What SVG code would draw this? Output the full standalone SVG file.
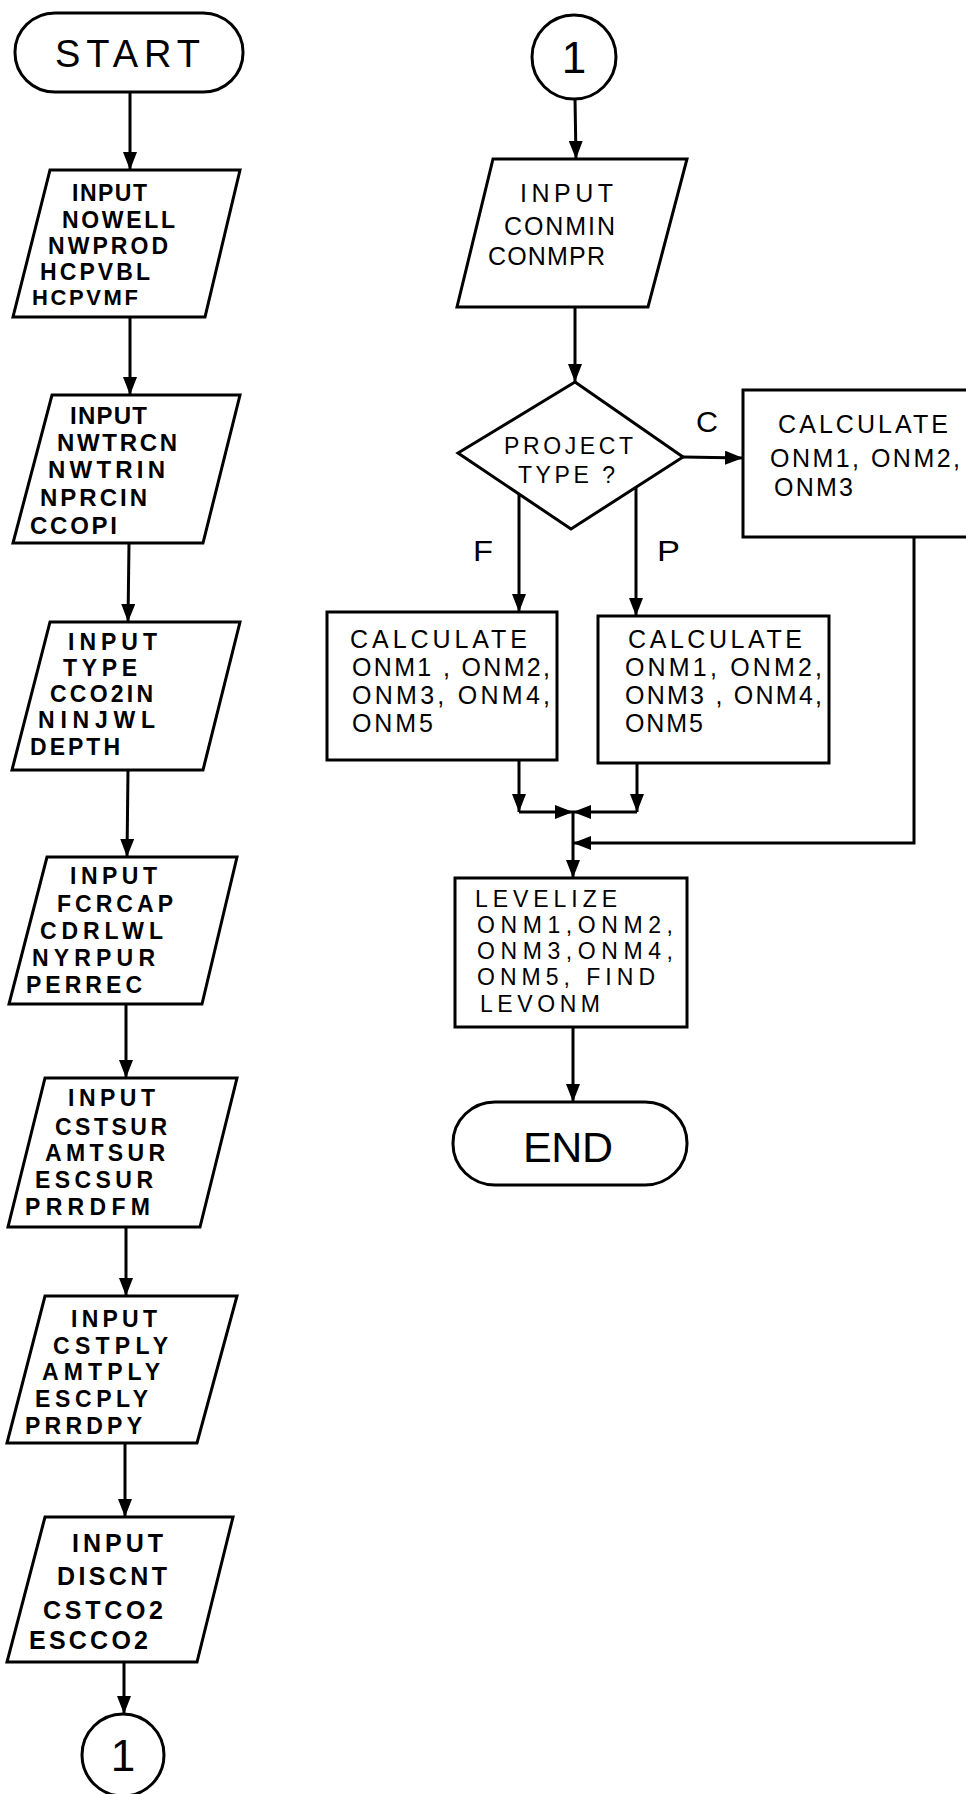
<svg xmlns="http://www.w3.org/2000/svg" width="966" height="1794" viewBox="0 0 966 1794">
  <style>
    .shape { fill: #fff; stroke: #000; stroke-width: 3; stroke-linejoin: miter; }
    .line { fill: none; stroke: #000; stroke-width: 3; }
    .txt { font-family: "Liberation Sans", Arial, sans-serif; fill: #000; }
    .bold { font-weight: bold; }
  </style>
  <defs>
    <marker id="arrow" markerWidth="18" markerHeight="14" refX="18" refY="7" orient="auto" markerUnits="userSpaceOnUse">
      <path d="M0,0 L18,7 L0,14 z" fill="#000"/>
    </marker>
  </defs>
  <rect width="966" height="1794" fill="#fff"/>

  <!-- connectors -->
  <g id="connectors" class="line">
    <line x1="130" y1="92" x2="130" y2="170" marker-end="url(#arrow)"/>
    <line x1="130" y1="317" x2="130" y2="395" marker-end="url(#arrow)"/>
    <line x1="129" y1="543" x2="128" y2="622" marker-end="url(#arrow)"/>
    <line x1="128" y1="770" x2="127" y2="857" marker-end="url(#arrow)"/>
    <line x1="126" y1="1004" x2="126" y2="1078" marker-end="url(#arrow)"/>
    <line x1="126" y1="1227" x2="126" y2="1296" marker-end="url(#arrow)"/>
    <line x1="125" y1="1443" x2="125" y2="1517" marker-end="url(#arrow)"/>
    <line x1="124" y1="1662" x2="124" y2="1714" marker-end="url(#arrow)"/>

    <line x1="575" y1="98" x2="576" y2="159" marker-end="url(#arrow)"/>
    <line x1="575" y1="307" x2="575" y2="382" marker-end="url(#arrow)"/>
    <line x1="683" y1="457" x2="743" y2="458" marker-end="url(#arrow)"/>
    <line x1="519" y1="494" x2="519" y2="612" marker-end="url(#arrow)"/>
    <line x1="636" y1="488" x2="636" y2="616" marker-end="url(#arrow)"/>

    <line x1="519" y1="760" x2="519" y2="812" marker-end="url(#arrow)"/>
    <line x1="519" y1="812" x2="573" y2="812" marker-end="url(#arrow)"/>
    <line x1="637" y1="763" x2="637" y2="812" marker-end="url(#arrow)"/>
    <line x1="637" y1="812" x2="573" y2="812" marker-end="url(#arrow)"/>
    <line x1="573" y1="812" x2="573" y2="878" marker-end="url(#arrow)"/>
    <polyline points="914,537 914,843 573,843" marker-end="url(#arrow)"/>
    <line x1="573" y1="1027" x2="573" y2="1102" marker-end="url(#arrow)"/>
  </g>

  <!-- left column -->
  <g id="start">
    <rect class="shape" x="15" y="13" width="228" height="79" rx="40" ry="39"/>
    <text class="txt" x="55" y="67" font-size="38" textLength="145" lengthAdjust="spacing">START</text>
  </g>

  <g id="input-wells">
    <polygon class="shape" points="50,170 240,170 205,317 13,317"/>
    <g class="txt bold" font-size="23">
      <text x="72" y="201" textLength="75" lengthAdjust="spacing">INPUT</text>
      <text x="62" y="228" textLength="113" lengthAdjust="spacing">NOWELL</text>
      <text x="48" y="254" textLength="120" lengthAdjust="spacing">NWPROD</text>
      <text x="40" y="280" textLength="110" lengthAdjust="spacing">HCPVBL</text>
      <text x="32" y="305" font-size="22" textLength="106" lengthAdjust="spacing">HCPVMF</text>
    </g>
  </g>

  <g id="input-counts">
    <polygon class="shape" points="52,395 240,395 203,543 13,543"/>
    <g class="txt bold" font-size="24">
      <text x="70" y="424" textLength="77" lengthAdjust="spacing">INPUT</text>
      <text x="57" y="451" textLength="120" lengthAdjust="spacing">NWTRCN</text>
      <text x="48" y="478" textLength="117" lengthAdjust="spacing">NWTRIN</text>
      <text x="40" y="506" textLength="107" lengthAdjust="spacing">NPRCIN</text>
      <text x="30" y="534" textLength="87" lengthAdjust="spacing">CCOPI</text>
    </g>
  </g>

  <g id="input-type">
    <polygon class="shape" points="50,622 240,622 203,770 12,770"/>
    <g class="txt bold" font-size="23">
      <text x="68" y="650" textLength="89" lengthAdjust="spacing">INPUT</text>
      <text x="63" y="676" textLength="74" lengthAdjust="spacing">TYPE</text>
      <text x="50" y="702" textLength="103" lengthAdjust="spacing">CCO2IN</text>
      <text x="38" y="728" textLength="117" lengthAdjust="spacing">NINJWL</text>
      <text x="30" y="755" textLength="90" lengthAdjust="spacing">DEPTH</text>
    </g>
  </g>

  <g id="input-capital">
    <polygon class="shape" points="47,857 237,857 202,1004 9,1004"/>
    <g class="txt bold" font-size="23">
      <text x="70" y="884" textLength="87" lengthAdjust="spacing">INPUT</text>
      <text x="57" y="912" textLength="116" lengthAdjust="spacing">FCRCAP</text>
      <text x="40" y="939" textLength="123" lengthAdjust="spacing">CDRLWL</text>
      <text x="32" y="966" textLength="123" lengthAdjust="spacing">NYRPUR</text>
      <text x="26" y="993" textLength="116" lengthAdjust="spacing">PERREC</text>
    </g>
  </g>

  <g id="input-surfactant">
    <polygon class="shape" points="45,1078 237,1078 200,1227 8,1227"/>
    <g class="txt bold" font-size="23">
      <text x="68" y="1106" textLength="87" lengthAdjust="spacing">INPUT</text>
      <text x="55" y="1135" textLength="112" lengthAdjust="spacing">CSTSUR</text>
      <text x="45" y="1161" textLength="120" lengthAdjust="spacing">AMTSUR</text>
      <text x="35" y="1188" textLength="118" lengthAdjust="spacing">ESCSUR</text>
      <text x="25" y="1215" textLength="125" lengthAdjust="spacing">PRRDFM</text>
    </g>
  </g>

  <g id="input-polymer">
    <polygon class="shape" points="45,1296 237,1296 197,1443 7,1443"/>
    <g class="txt bold" font-size="23">
      <text x="71" y="1327" textLength="86" lengthAdjust="spacing">INPUT</text>
      <text x="53" y="1354" textLength="115" lengthAdjust="spacing">CSTPLY</text>
      <text x="42" y="1380" textLength="118" lengthAdjust="spacing">AMTPLY</text>
      <text x="35" y="1407" textLength="113" lengthAdjust="spacing">ESCPLY</text>
      <text x="25" y="1434" textLength="117" lengthAdjust="spacing">PRRDPY</text>
    </g>
  </g>

  <g id="input-co2">
    <polygon class="shape" points="45,1517 233,1517 197,1662 7,1662"/>
    <g class="txt bold" font-size="25">
      <text x="72" y="1552" textLength="91" lengthAdjust="spacing">INPUT</text>
      <text x="57" y="1585" textLength="110" lengthAdjust="spacing">DISCNT</text>
      <text x="43" y="1619" textLength="120" lengthAdjust="spacing">CSTCO2</text>
      <text x="29" y="1649" textLength="119" lengthAdjust="spacing">ESCCO2</text>
    </g>
  </g>

  <g id="connector-out">
    <circle class="shape" cx="123" cy="1755" r="41"/>
    <text class="txt" x="123" y="1771" font-size="44" text-anchor="middle">1</text>
  </g>

  <!-- right column -->
  <g id="connector-in">
    <circle class="shape" cx="574" cy="57" r="42"/>
    <text class="txt" x="574" y="73" font-size="44" text-anchor="middle">1</text>
  </g>

  <g id="input-constraints">
    <polygon class="shape" points="493,159 687,159 648,307 457,307"/>
    <g class="txt" font-size="25">
      <text x="520" y="202" textLength="93" lengthAdjust="spacing">INPUT</text>
      <text x="504" y="235" textLength="111" lengthAdjust="spacing">CONMIN</text>
      <text x="488" y="265" textLength="117" lengthAdjust="spacing">CONMPR</text>
    </g>
  </g>

  <g id="project-type">
    <polygon class="shape" points="575,382 683,457 571,529 458,453"/>
    <g class="txt" font-size="23">
      <text x="504" y="454" textLength="129" lengthAdjust="spacing">PROJECT</text>
      <text x="518" y="483" textLength="97" lengthAdjust="spacing">TYPE ?</text>
    </g>
  </g>

  <g id="branch-labels" class="txt" font-size="30">
    <text x="696" y="432" textLength="22" lengthAdjust="spacingAndGlyphs">C</text>
    <text x="473" y="561" textLength="20" lengthAdjust="spacingAndGlyphs">F</text>
    <text x="657" y="561" textLength="23" lengthAdjust="spacingAndGlyphs">P</text>
  </g>

  <g id="calc-c">
    <rect class="shape" x="743" y="390" width="230" height="147"/>
    <g class="txt" font-size="25">
      <text x="778" y="433" textLength="170" lengthAdjust="spacing">CALCULATE</text>
      <text x="770" y="467" textLength="190" lengthAdjust="spacing">ONM1, ONM2,</text>
      <text x="774" y="496" textLength="79" lengthAdjust="spacing">ONM3</text>
    </g>
  </g>

  <g id="calc-f">
    <rect class="shape" x="327" y="612" width="230" height="148"/>
    <g class="txt" font-size="25">
      <text x="350" y="648" textLength="177" lengthAdjust="spacing">CALCULATE</text>
      <text x="352" y="676" textLength="198" lengthAdjust="spacing">ONM1 , ONM2,</text>
      <text x="352" y="704" textLength="198" lengthAdjust="spacing">ONM3, ONM4,</text>
      <text x="352" y="732" textLength="81" lengthAdjust="spacing">ONM5</text>
    </g>
  </g>

  <g id="calc-p">
    <rect class="shape" x="598" y="616" width="231" height="147"/>
    <g class="txt" font-size="25">
      <text x="628" y="648" textLength="174" lengthAdjust="spacing">CALCULATE</text>
      <text x="625" y="676" textLength="197" lengthAdjust="spacing">ONM1, ONM2,</text>
      <text x="625" y="704" textLength="197" lengthAdjust="spacing">ONM3 , ONM4,</text>
      <text x="625" y="732" textLength="78" lengthAdjust="spacing">ONM5</text>
    </g>
  </g>

  <g id="levelize">
    <rect class="shape" x="455" y="878" width="232" height="149"/>
    <g class="txt" font-size="23">
      <text x="475" y="907" textLength="142" lengthAdjust="spacing">LEVELIZE</text>
      <text x="477" y="933" textLength="196" lengthAdjust="spacing">ONM1,ONM2,</text>
      <text x="477" y="959" textLength="196" lengthAdjust="spacing">ONM3,ONM4,</text>
      <text x="477" y="985" textLength="178" lengthAdjust="spacing">ONM5, FIND</text>
      <text x="480" y="1012" textLength="120" lengthAdjust="spacing">LEVONM</text>
    </g>
  </g>

  <g id="end">
    <rect class="shape" x="453" y="1102" width="234" height="83" rx="42" ry="41"/>
    <text class="txt" x="523" y="1162" font-size="43" textLength="90" lengthAdjust="spacing">END</text>
  </g>
</svg>
